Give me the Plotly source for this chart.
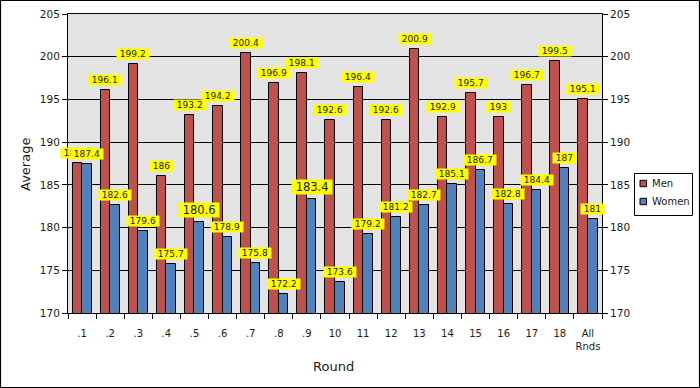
import plotly.graph_objects as go

# ---- data ----
rounds = [".1", ".2", ".3", ".4", ".5", ".6", ".7", ".8", ".9", "10",
          "11", "12", "13", "14", "15", "16", "17", "18", "All<br>Rnds"]
men = [187.6, 196.1, 199.2, 186, 193.2, 194.2, 200.4, 196.9, 198.1, 192.6,
       196.4, 192.6, 200.9, 192.9, 195.7, 193, 196.7, 199.5, 195.1]
women = [187.4, 182.6, 179.6, 175.7, 180.6, 178.9, 175.8, 172.2, 183.4, 173.6,
         179.2, 181.2, 182.7, 185.1, 186.7, 182.8, 184.4, 187, 181]
series_names = ["Men", "Women"]
y_ticks = [170, 175, 180, 185, 190, 195, 200, 205]

# ---- style ----
MEN_C = "#C0504D"
WOMEN_C = "#4F81BD"
COLORS = [MEN_C, WOMEN_C]
BAR_W = 0.34
FONT = "DejaVu Sans"
TXT = "#1a1a1a"
big_women_labels = {4, 8}  # indices of labels drawn in a larger font

xpos = list(range(len(rounds)))

fig = go.Figure()
fig.add_trace(go.Bar(name=series_names[0], x=xpos, y=men, width=BAR_W, offset=-BAR_W,
                     marker=dict(color=MEN_C, line=dict(color="black", width=1)),
                     hoverinfo="y", showlegend=False))
# women bars use the mirrored right-hand axis (same range) so that it gets drawn
fig.add_trace(go.Bar(name=series_names[1], x=xpos, y=women, width=BAR_W, offset=0,
                     marker=dict(color=WOMEN_C, line=dict(color="black", width=1)),
                     hoverinfo="y", showlegend=False, yaxis="y2"))


def fmt(v):
    s = f"{v:.1f}"
    return s[:-2] if s.endswith(".0") else s


annots = []
for i, v in enumerate(men):
    annots.append(dict(x=i - BAR_W / 2, y=v, xref="x", yref="y", text="\u00a0" + fmt(v) + "\u00a0",
                       showarrow=False, yanchor="bottom", yshift=4, bgcolor="#FFFF00",
                       borderpad=0, font=dict(family=FONT, size=9, color=TXT)))
for i, v in enumerate(women):
    size = 11.5 if i in big_women_labels else 9
    annots.append(dict(x=i + BAR_W / 2, y=v, xref="x", yref="y", text="\u00a0" + fmt(v) + "\u00a0",
                       showarrow=False, yanchor="bottom", yshift=4, bgcolor="#FFFF00",
                       borderpad=0, font=dict(family=FONT, size=size, color=TXT)))

L, R, T, B = 68, 98, 14, 75
PW, PH = 700 - L - R, 388 - T - B


def px(xp):
    return (xp - L) / PW


def py(yp):
    return (T + PH - yp) / PH


annots.append(dict(text="Average", xref="paper", yref="paper", x=px(25), y=py(165),
                   xanchor="center", yanchor="middle",
                   textangle=-90, showarrow=False, font=dict(family=FONT, size=13, color=TXT)))
annots.append(dict(text="Round", xref="paper", yref="paper", x=px(333), y=py(367),
                   xanchor="center", yanchor="middle",
                   showarrow=False, font=dict(family=FONT, size=13, color=TXT)))

shapes = [dict(type="rect", xref="paper", yref="paper",
               x0=px(0.5), x1=px(699.5), y0=py(387.5), y1=py(0.5),
               line=dict(color="black", width=1.2), fillcolor="rgba(0,0,0,0)", layer="below")]

# compact legend box (drawn in paper coordinates)
shapes.append(dict(type="rect", xref="paper", yref="paper",
                   x0=px(634.5), x1=px(692.5), y0=py(215.5), y1=py(173.5),
                   line=dict(color="black", width=1), fillcolor="white", layer="above"))
for k, (name, col) in enumerate(zip(series_names, COLORS)):
    yc = 183.5 + 18 * k
    shapes.append(dict(type="rect", xref="paper", yref="paper",
                       x0=px(640), x1=px(646.5), y0=py(yc + 3.2), y1=py(yc - 3.2),
                       line=dict(color="black", width=1), fillcolor=col, layer="above"))
    annots.append(dict(text=name, xref="paper", yref="paper", x=px(650), y=py(yc),
                       xanchor="left", yanchor="middle", showarrow=False,
                       font=dict(family=FONT, size=10, color=TXT)))

yrange = [y_ticks[0], y_ticks[-1]]
fig.update_layout(
    width=700, height=388,
    margin=dict(l=L, r=R, t=T, b=B, autoexpand=False),
    paper_bgcolor="white", plot_bgcolor="#E3E3E3",
    barmode="overlay", bargap=0, showlegend=False,
    font=dict(family=FONT, size=10, color=TXT),
    annotations=annots, shapes=shapes,
    xaxis=dict(range=[-0.5, len(rounds) - 0.5], tickmode="array", tickvals=xpos, ticktext=rounds,
               ticks="", showgrid=False, zeroline=False, showline=True, linecolor="black",
               linewidth=1, mirror=True, ticklabelstandoff=11,
               tickfont=dict(family=FONT, size=10, color=TXT),
               minor=dict(tickmode="array", tickvals=[i - 0.5 for i in range(len(rounds) + 1)],
                          ticks="outside", ticklen=5, tickcolor="black", tickwidth=1, showgrid=False)),
    yaxis=dict(range=yrange, tickmode="array", tickvals=y_ticks, ticks="outside", ticklen=5,
               tickcolor="black", showgrid=True, gridcolor="black", gridwidth=1, zeroline=False,
               showline=True, linecolor="black", linewidth=1,
               tickfont=dict(family=FONT, size=10.5, color=TXT)),
    yaxis2=dict(range=yrange, tickmode="array", tickvals=y_ticks, ticks="outside", ticklen=5,
                tickcolor="black", overlaying="y", side="right", showgrid=False, zeroline=False,
                showline=True, linecolor="black", linewidth=1,
                tickfont=dict(family=FONT, size=10.5, color=TXT)),
)

fig.write_html("out.html", config={"displayModeBar": False},
               post_script="document.body.style.margin='0';")
